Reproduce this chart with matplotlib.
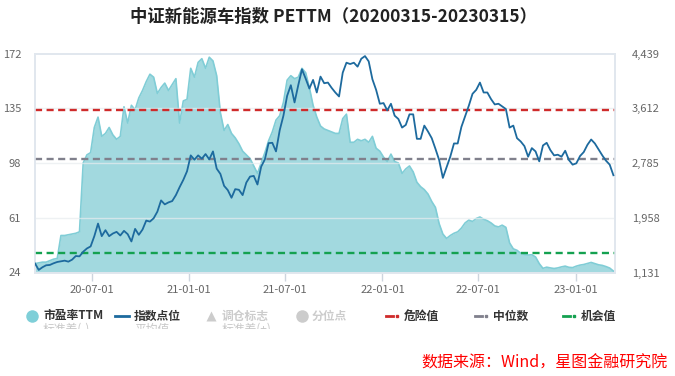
import matplotlib
matplotlib.use('Agg')
import matplotlib.pyplot as plt
import matplotlib.dates as mdates
import numpy as np
import pandas as pd

plt.rcParams['font.family'] = ['Noto Sans CJK SC', 'DejaVu Sans']
plt.rcParams['axes.unicode_minus'] = False

# ---- data (weekly samples) ----
dates = pd.date_range('2020-03-16', periods=157, freq='7D')

pe_ttm = [30, 30.5, 31, 31, 32, 33, 33.5, 49, 49, 49.5, 50, 50.5, 51.5, 98, 103.5, 105,
          122, 129, 116, 118, 122, 117, 114, 116, 136, 125, 137, 134, 142, 147, 153, 158,
          156, 145, 149, 152, 147, 151, 155, 125, 140, 141, 162, 156, 166, 168.5, 162, 169.5,
          167, 157, 132, 120, 124, 118, 115, 111, 106, 103.5, 101, 96, 91, 98, 105, 113,
          119, 127, 130, 139, 154, 157, 155, 156, 162, 159, 149, 137, 129, 123, 121, 120,
          119, 118, 118, 128, 131, 112, 112, 114, 113, 114, 112, 116, 108, 106, 102, 99,
          104, 99, 98, 91, 94, 96, 92, 85, 82, 80, 77, 72, 68, 57, 50, 47,
          49, 50.5, 51.5, 54, 57.5, 59.4, 58.5, 60.5, 61.5, 60, 59, 57.5, 55.5, 54.8, 56, 54.5,
          44, 40, 39, 37, 36.2, 35.8, 36, 34.5, 30, 26.8, 27.6, 27.1, 26.7, 27.1, 27.8, 28.3,
          27.5, 27.3, 28.3, 29, 29.4, 30.1, 30.8, 30, 29.2, 28.8, 28, 27, 25]

index_pts = [1268, 1170, 1210, 1240, 1245, 1270, 1290, 1300, 1310, 1295, 1325, 1380, 1375, 1445, 1494, 1525,
             1680, 1870, 1680, 1770, 1680, 1720, 1745, 1690, 1760, 1710, 1600, 1790, 1700, 1780, 1915, 1900,
             1950, 2050, 2220, 2160, 2190, 2210, 2300, 2420, 2530, 2660, 2900, 2835, 2900, 2850, 2920, 2840,
             2960, 2700, 2620, 2440, 2375, 2260, 2390, 2380, 2300, 2490, 2580, 2590, 2460, 2730, 2840, 3085,
             3090, 2960, 3280, 3500, 3800, 3960, 3700, 3960, 4200, 4060, 3910, 4040, 3850, 4090, 3990, 4000,
             3920, 3850, 3790, 4150, 4300, 4280, 4300, 4240, 4360, 4400, 4320, 4050, 3890, 3680, 3690, 3580,
             3680, 3500, 3450, 3320, 3360, 3520, 3520, 3150, 3150, 3350, 3260, 3160, 3000, 2830, 2560, 2720,
             2880, 3080, 3080, 3330, 3490, 3650, 3830, 3890, 4000, 3850, 3850, 3750, 3670, 3680, 3640, 3600,
             3320, 3350, 3160, 3110, 3040, 2880, 3010, 2960, 2810, 3050, 3090, 2980, 2900, 2910, 2880, 2970,
             2830, 2760, 2780, 2890, 2950, 3060, 3140, 3080, 2990, 2900, 2820, 2760, 2600]

danger_val = 133.7
median_val = 100.8
chance_val = 37.3

left_ticks = [24, 61, 98, 135, 172]
right_ticks = [1131, 1958, 2785, 3612, 4439]
x_ticks = ['2020-07-01', '2021-01-01', '2021-07-01', '2022-01-01', '2022-07-01', '2023-01-01']

# ---- colours ----
c_fill = '#a2d9df'
c_edge = '#80cdd6'
c_line = '#1d6a9e'
c_red = '#cf2b2b'
c_gray = '#80808c'
c_green = '#14a150'
c_tick = '#666666'
c_frame = '#e1e7ee'

W, H = 675, 376
fig = plt.figure(figsize=(W / 100, H / 100), dpi=100)
ax = fig.add_axes([35 / W, 1 - 272.5 / H, 580 / W, 219 / H])
ax2 = ax.twinx()

ax.fill_between(dates, left_ticks[0], pe_ttm, color=c_fill, lw=0, zorder=1)
ax.plot(dates, pe_ttm, color=c_edge, lw=1.2, zorder=1.5)
for t in left_ticks[1:4]:
    ax.axhline(t, color='#e8ecef', lw=1, alpha=0.7, zorder=2)
ax.axhline(danger_val, color=c_red, lw=1.7, ls=(0, (3, 1.9)), zorder=3)
ax.axhline(median_val, color=c_gray, lw=1.7, ls=(0, (3, 1.9)), zorder=3)
ax.axhline(chance_val, color=c_green, lw=1.7, ls=(0, (3, 1.9)), zorder=3)

ax2.plot(dates, index_pts, color=c_line, lw=1.3, zorder=4)

ax.set_xlim(pd.Timestamp('2020-03-16'), pd.Timestamp('2023-03-16'))
ax.set_ylim(left_ticks[0], left_ticks[-1])
ax2.set_ylim(right_ticks[0], right_ticks[-1])
ax.set_yticks(left_ticks)
ax.set_yticklabels([str(v) for v in left_ticks])
ax2.set_yticks(right_ticks)
ax2.set_yticklabels([f'{v:,}' for v in right_ticks])
ax.set_xticks(pd.to_datetime(x_ticks))
ax.xaxis.set_major_formatter(mdates.DateFormatter('%y-%m-%d'))

for a in (ax, ax2):
    for s in a.spines.values():
        s.set_color(c_frame)
        s.set_linewidth(1.2)
ax.tick_params(axis='y', length=0, pad=10, labelsize=8, labelcolor=c_tick)
ax2.tick_params(axis='y', length=0, pad=12, labelsize=8, labelcolor=c_tick)
ax.tick_params(axis='x', length=6, width=1, color='#cdd5de', pad=3, labelsize=8, labelcolor=c_tick)
ax.set_facecolor('white')

fig.text(0.494, 1 - 17 / H, '中证新能源车指数 PETTM（20200315-20230315）',
         ha='center', va='center', fontsize=12.5, fontweight='bold', color='#222222')

# ---- legend drawn in pixel space ----
lg = fig.add_axes([0, 0, 1, 1], facecolor='none')
lg.set_xlim(0, W)
lg.set_ylim(H, 0)
lg.axis('off')
ly = 316
lg.plot([32], [ly], 'o', ms=9, color='#7fcfd8', mec='none')
lg.text(43, ly, '市盈率TTM', va='center', fontsize=8.5, fontweight='bold', color='#333333')
lg.plot([115, 129], [ly, ly], color=c_line, lw=2)
lg.text(134, ly, '指数点位', va='center', fontsize=8.5, fontweight='bold', color='#333333')
lg.plot([211], [ly], '^', ms=7, color='#cccccc', mec='none')
lg.text(222, ly, '调仓标志', va='center', fontsize=8.5, fontweight='bold', color='#cccccc')
lg.plot([302], [ly], 'o', ms=9, color='#cccccc', mec='none')
lg.text(312, ly, '分位点', va='center', fontsize=8.5, fontweight='bold', color='#cccccc')
for x0, col, lab in [(386, c_red, '危险值'), (475, c_gray, '中位数'), (563, c_green, '机会值')]:
    lg.plot([x0, x0 + 7], [ly, ly], color=col, lw=2)
    lg.plot([x0 + 11], [ly], 's', ms=2, color=col)
    lg.text(x0 + 18, ly, lab, va='center', fontsize=8.5, fontweight='bold', color='#333333')

# second legend row, cut off like in the source
lg2 = fig.add_axes([0, 1 - 329 / H, 1, 7 / H], facecolor='none')
lg2.set_xlim(0, W)
lg2.set_ylim(329, 322)
lg2.axis('off')
for x0, lab in [(43, '标准差(-)'), (134, '平均值'), (222, '标准差(+)')]:
    lg2.text(x0, 329, lab, va='center', fontsize=8.5, color='#c8c8c8', clip_on=True)

fig.text(668 / W, 1 - 363 / H, '数据来源：Wind，星图金融研究院', ha='right', va='center',
         fontsize=11.5, color='#ff0000', style='italic')

fig.savefig('out.png', dpi=100)
